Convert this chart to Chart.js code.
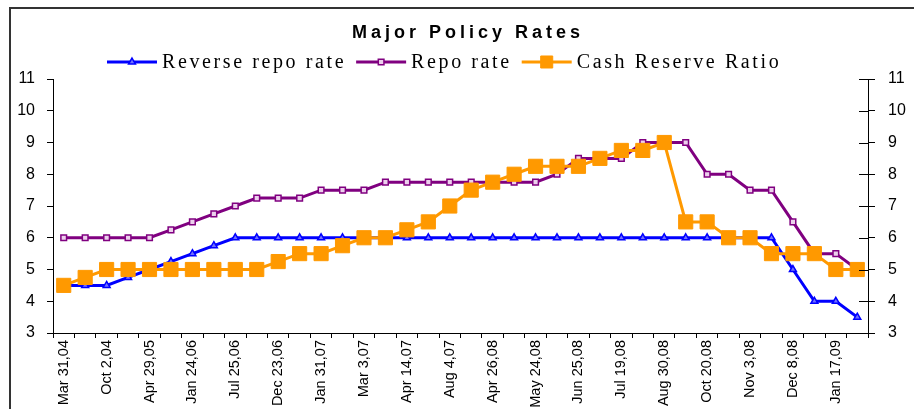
<!DOCTYPE html>
<html>
<head>
<meta charset="utf-8">
<script src="https://cdn.jsdelivr.net/npm/chart.js@4/dist/chart.umd.min.js"></script>
<style>
  html, body { margin: 0; padding: 0; background: #fff; }
  #wrap { width: 914px; height: 409px; position: relative; }
</style>
</head>
<body>
<div id="wrap"><canvas id="ratesChart" width="914" height="409"></canvas></div>
<script>
// tick labels shown on every other category
const tickLabels = ['Mar 31,04', 'Oct 2,04', 'Apr 29,05', 'Jan 24,06', 'Jul 25,06', 'Dec 23,06', 'Jan 31,07',
    'Mar 3,07', 'Apr 14,07', 'Aug 4,07', 'Apr 26,08', 'May 24,08', 'Jun 25,08', 'Jul 19,08', 'Aug 30,08',
    'Oct 20,08', 'Nov 3,08', 'Dec 8,08', 'Jan 17,09'];
const seriesNames = ['Reverse repo rate', 'Repo rate', 'Cash Reserve Ratio'];
const reverseRepo = [4.5, 4.5, 4.5, 4.75, 5, 5.25, 5.5, 5.75, 6, 6, 6, 6, 6, 6, 6, 6, 6, 6, 6, 6, 6, 6, 6, 6, 6, 6,
    6, 6, 6, 6, 6, 6, 6, 6, 5, 4, 4, 3.5];
const repo = [6, 6, 6, 6, 6, 6.25, 6.5, 6.75, 7, 7.25, 7.25, 7.25, 7.5, 7.5, 7.5, 7.75, 7.75, 7.75, 7.75, 7.75,
    7.75, 7.75, 7.75, 8, 8.5, 8.5, 8.5, 9, 9, 9, 8, 8, 7.5, 7.5, 6.5, 5.5, 5.5, 5];
const crr = [4.5, 4.75, 5, 5, 5, 5, 5, 5, 5, 5, 5.25, 5.5, 5.5, 5.75, 6, 6, 6.25, 6.5, 7, 7.5, 7.75, 8, 8.25, 8.25,
    8.25, 8.5, 8.75, 8.75, 9, 6.5, 6.5, 6, 6, 5.5, 5.5, 5.5, 5, 5];

// one category per data point, dates between the labelled ones left blank
const labels = reverseRepo.map((v, i) => (i % 2 === 0 ? tickLabels[i / 2] : ''));

const decorations = {
    id: 'decorations',
    beforeDraw(chart) {
        const ctx = chart.ctx;
        ctx.save();
        ctx.strokeStyle = '#333';
        ctx.lineWidth = 2;
        ctx.beginPath();
        ctx.moveTo(10, 409);
        ctx.lineTo(10, 8);
        ctx.lineTo(914, 8);
        ctx.stroke();
        ctx.restore();
    },
    afterDraw(chart) {
        const ctx = chart.ctx;
        ctx.save();

        // inner half of the right axis ticks
        const y2 = chart.scales.y2;
        ctx.strokeStyle = '#000';
        ctx.lineWidth = 1;
        y2.ticks.forEach((t, i) => {
            const py = Math.round(y2.getPixelForTick(i)) + 0.5;
            ctx.beginPath();
            ctx.moveTo(y2.left - 9, py);
            ctx.lineTo(y2.left, py);
            ctx.stroke();
        });

        // title
        ctx.fillStyle = '#000';
        ctx.font = 'bold 18px "Liberation Sans", Arial, sans-serif';
        ctx.letterSpacing = '4px';
        ctx.textAlign = 'center';
        ctx.textBaseline = 'alphabetic';
        ctx.fillText('Major Policy Rates', 468, 38);

        // legend: line + marker + text
        ctx.font = '20px "Liberation Serif", "Times New Roman", serif';
        ctx.letterSpacing = '2.6px';
        ctx.textAlign = 'left';
        let x = 107;
        const ly = 62;
        chart.data.datasets.forEach((ds) => {
            ctx.strokeStyle = ds.borderColor;
            ctx.lineWidth = 3;
            ctx.beginPath();
            ctx.moveTo(x, ly);
            ctx.lineTo(x + 50, ly);
            ctx.stroke();
            ctx.fillStyle = ds.backgroundColor;
            ctx.strokeStyle = ds.pointBorderColor;
            ctx.lineWidth = ds.pointBorderWidth;
            Chart.helpers.drawPoint(ctx, {
                pointStyle: ds.pointStyle,
                radius: ds.pointRadius > 5 ? 8.5 : ds.pointRadius,
                borderWidth: ds.pointBorderWidth,
                rotation: 0
            }, x + 25, ly);
            ctx.fillStyle = '#000';
            ctx.fillText(ds.label, x + 55, 68);
            x += 55 + ctx.measureText(ds.label).width + 10;
        });
        ctx.restore();
    }
};

const yTicks = {
    stepSize: 1,
    color: '#000',
    font: { family: '"Liberation Sans", Arial, sans-serif', size: 16 }
};

new Chart(document.getElementById('ratesChart'), {
    type: 'line',
    data: {
        labels: labels,
        datasets: [
            {
                label: seriesNames[0],
                data: reverseRepo,
                borderColor: '#0000ff',
                backgroundColor: '#7070ff',
                pointBorderColor: '#0000ff',
                borderWidth: 3,
                pointStyle: 'triangle',
                pointRadius: 4,
                pointBorderWidth: 1.5,
                order: 3
            },
            {
                label: seriesNames[1],
                data: repo,
                borderColor: '#800080',
                backgroundColor: '#ecd0ec',
                pointBorderColor: '#800080',
                borderWidth: 3,
                pointStyle: 'rect',
                pointRadius: 4,
                pointBorderWidth: 1.5,
                order: 2
            },
            {
                label: seriesNames[2],
                data: crr,
                borderColor: '#ff9900',
                backgroundColor: '#ff9900',
                pointBorderColor: '#ff9900',
                borderWidth: 3,
                pointStyle: 'rect',
                pointRadius: 10,
                pointBorderWidth: 1,
                order: 1
            }
        ]
    },
    options: {
        responsive: false,
        animation: false,
        layout: { padding: { top: 79, left: 10, right: 0, bottom: 0 } },
        elements: { line: { tension: 0 } },
        plugins: {
            legend: { display: false },
            title: { display: false },
            tooltip: { enabled: false }
        },
        scales: {
            x: {
                offset: true,
                grid: { offset: true, drawOnChartArea: false, tickLength: 5, color: '#000' },
                border: { color: '#000' },
                ticks: {
                    autoSkip: false,
                    maxRotation: 90,
                    minRotation: 90,
                    padding: 2,
                    color: '#000',
                    font: { family: '"Liberation Sans", Arial, sans-serif', size: 14.5 }
                },
                afterFit(s) { s.height = 76; }
            },
            y: {
                position: 'left',
                min: 3,
                max: 11,
                ticks: Object.assign({ padding: 12 }, yTicks),
                grid: { drawOnChartArea: false, tickLength: 6, color: '#000' },
                border: { color: '#000' },
                afterFit(s) { s.width = 43; }
            },
            y2: {
                position: 'right',
                min: 3,
                max: 11,
                ticks: Object.assign({ padding: 13 }, yTicks),
                grid: { drawOnChartArea: false, tickLength: 7, color: '#000' },
                border: { color: '#000' },
                afterFit(s) { s.width = 46; }
            }
        }
    },
    plugins: [decorations]
});
</script>
</body>
</html>
